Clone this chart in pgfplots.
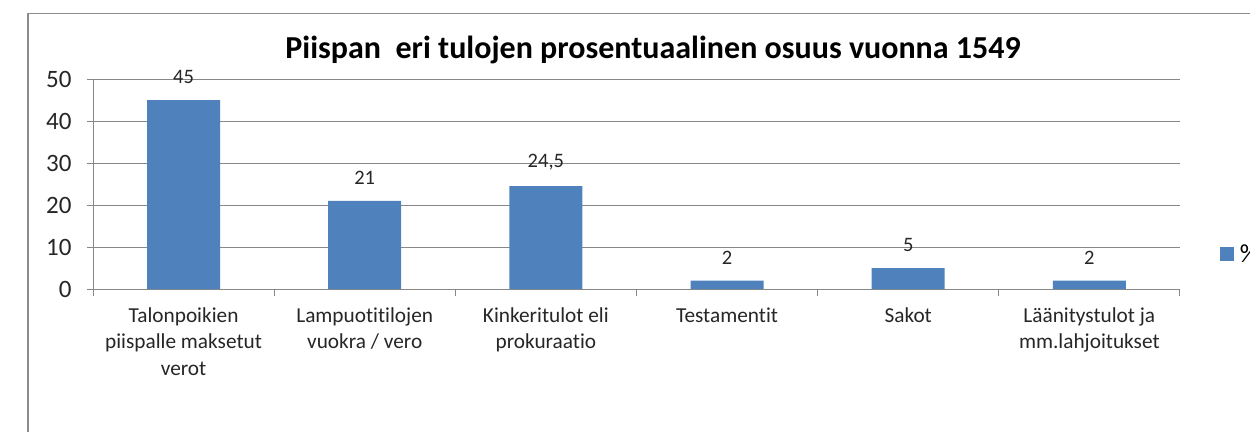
\documentclass[border=0pt]{standalone}
\usepackage{fontspec}
\setmainfont[Ligatures={NoCommon,NoContextual}]{Carlito}
\usepackage{pgfplots}
\pgfplotsset{compat=1.18}
\definecolor{barblue}{HTML}{4F81BD}
\definecolor{gridgray}{HTML}{888888}
\definecolor{framegray}{HTML}{8C8C8C}
\begin{document}
\begin{tikzpicture}[x=1pt,y=1pt]
\useasboundingbox (0,0) rectangle (1250,-431);
\begin{scope}
\clip (0,0) rectangle (1250,-431);
\draw[framegray, line width=1.8pt] (28,-480) -- (28,-13.5) -- (1300,-13.5);
\node[font=\fontsize{32}{36}\selectfont\bfseries] at (653,-50) {Piispan\ \ eri tulojen prosentuaalinen osuus vuonna 1549};
\begin{axis}[
  at={(93pt,-289pt)}, anchor=south west,
  scale only axis, width=1087pt, height=210pt,
  xmin=-0.5, xmax=5.5, ymin=0, ymax=50,
  enlargelimits=false,
  axis x line*=bottom, axis y line*=left,
  axis line style={gridgray, line width=1pt, -},
  ytick={0,10,...,50},
  ymajorgrids, grid style={gridgray, line width=1pt},
  xtick={0,...,5},
  xticklabels={{Talonpoikien\\piispalle maksetut\\verot},{Lampuotitilojen\\vuokra / vero},{Kinkeritulot eli\\prokuraatio},{Testamentit},{Sakot},{Läänitystulot ja\\mm.lahjoitukset}},
  xticklabel style={align=center, font=\fontsize{21.3}{26.5}\selectfont, color=black!85, yshift=-9pt},
  x tick style={draw=none},
  extra x ticks={-0.5,0.5,...,5.5},
  extra x tick labels={},
  extra x tick style={x tick style={draw=gridgray, line width=1pt}, major tick length=7pt, tick align=outside, grid=none},
  y tick style={draw=gridgray, line width=1pt},
  tick align=outside, major tick length=6pt,
  yticklabel style={font=\fontsize{25}{30}\selectfont, color=black!85, xshift=-12pt},
  /pgf/number format/assume math mode=true,
  /pgf/number format/use comma,
  legend style={draw=none, fill=none, at={(1.0365,0.167)}, anchor=west, font=\fontsize{26}{30}\selectfont, inner sep=0pt},
  legend image code/.code={\fill[barblue] (0pt,-7pt) rectangle (14pt,7pt);},
]
\addplot[ybar, bar width=73pt, fill=barblue, draw=none,
  nodes near coords,
  every node near coord/.append style={font=\fontsize{20.5}{24}\selectfont, color=black!85, anchor=south, inner sep=0pt, yshift=16pt}]
  coordinates {(0,45) (1,21) (2,24.5) (3,2) (4,5) (5,2)};
\addlegendentry{\hspace{4pt}\%}
\end{axis}
\end{scope}
\end{tikzpicture}
\end{document}
